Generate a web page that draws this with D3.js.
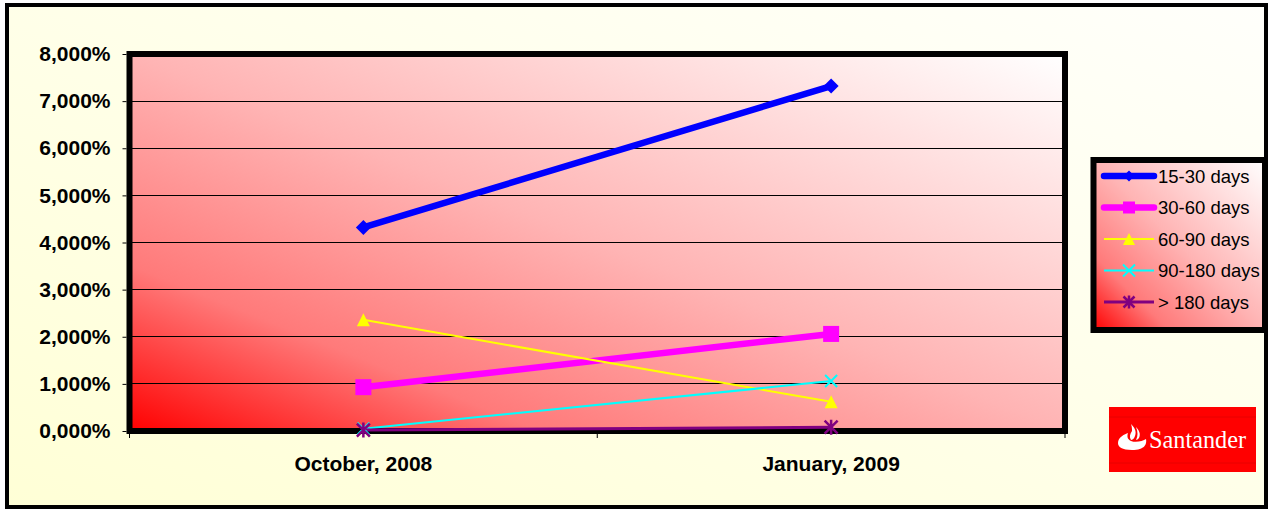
<!DOCTYPE html>
<html><head><meta charset="utf-8">
<script src="https://cdn.jsdelivr.net/npm/d3@7"></script>
<style>
html,body{margin:0;padding:0;background:#fff;overflow:hidden;}
svg{display:block;}
</style></head>
<body>
<svg id="c" width="1268" height="511"></svg>
<script>
const categories = ["October, 2008", "January, 2009"];
const seriesNames = ["15-30 days", "30-60 days", "60-90 days", "90-180 days", "> 180 days"];
const values1530 = [4.32, 7.32];
const values3060 = [0.93, 2.06];
const values6090 = [2.36, 0.62];
const values90180 = [0.05, 1.06];
const values180 = [0.02, 0.08];
const yTicks = [0, 1, 2, 3, 4, 5, 6, 7, 8];
const yTickLabels = ["0,000%", "1,000%", "2,000%", "3,000%", "4,000%", "5,000%", "6,000%", "7,000%", "8,000%"];

const series = [
  {name: seriesNames[0], values: values1530, color: "#0000ff", width: 6.5, marker: "diamond", ms: 15, lms: 11},
  {name: seriesNames[1], values: values3060, color: "#ff00ff", width: 6.5, marker: "square", ms: 16, lms: 12},
  {name: seriesNames[2], values: values6090, color: "#ffff00", width: 2, marker: "triangle", ms: 13, lms: 12},
  {name: seriesNames[3], values: values90180, color: "#00ffff", width: 2, marker: "x", ms: 12, lms: 12},
  {name: seriesNames[4], values: values180, color: "#800080", width: 3, marker: "asterisk", ms: 13, lms: 11}
];

const svg = d3.select("#c");
const defs = svg.append("defs");
const bg = defs.append("linearGradient").attr("id","bgGrad").attr("x1","0").attr("y1","1").attr("x2","1").attr("y2","0");
bg.append("stop").attr("offset","0").attr("stop-color","#ffffd6");
bg.append("stop").attr("offset","1").attr("stop-color","#fffffb");
function redGrad(id) {
  const g = defs.append("linearGradient").attr("id",id).attr("x1","0").attr("y1","1").attr("x2","1").attr("y2","0");
  g.append("stop").attr("offset","0").attr("stop-color","#ff0000");
  g.append("stop").attr("offset","0.22").attr("stop-color","#ff7a7a");
  g.append("stop").attr("offset","0.5").attr("stop-color","#ffb4b4");
  g.append("stop").attr("offset","1").attr("stop-color","#ffffff");
}
redGrad("plotGrad");
redGrad("legGrad");

// outer frame
svg.append("rect").attr("x",7).attr("y",5).attr("width",1259).attr("height",502)
  .attr("fill","url(#bgGrad)").attr("stroke","#000").attr("stroke-width",4);

const L = 129.5, R = 1065, T = 54, B = 431;
const x = d3.scaleBand().domain(categories).range([L, R]);
const y = d3.scaleLinear().domain([0, 8]).range([B, T]);

// plot area
svg.append("rect").attr("x",L+3).attr("y",T+3).attr("width",R-L).attr("height",B-T)
  .attr("fill","#888");
svg.append("rect").attr("x",L).attr("y",T).attr("width",R-L).attr("height",B-T)
  .attr("fill","url(#plotGrad)");

// gridlines
svg.append("g").selectAll("line").data(yTicks.filter(d => d > 0 && d < 8)).join("line")
  .attr("x1",L).attr("x2",R).attr("y1",d=>y(d)).attr("y2",d=>y(d))
  .attr("stroke","#000").attr("stroke-width",1).attr("shape-rendering","crispEdges");

svg.append("rect").attr("x",L).attr("y",T).attr("width",R-L).attr("height",B-T)
  .attr("fill","none").attr("stroke","#000").attr("stroke-width",6);

// y axis
const yAxis = d3.axisLeft(y).tickValues(yTicks).tickFormat((d,i)=>yTickLabels[i]).tickSize(4).tickPadding(12);
const ya = svg.append("g").attr("transform",`translate(${L-3},0)`).call(yAxis);
ya.select(".domain").remove();
ya.selectAll(".tick line").attr("stroke","#000");
ya.selectAll("text").attr("font-family","'Liberation Sans', Arial, sans-serif").attr("font-size",21)
  .attr("font-weight","bold").attr("fill","#000");

// x axis
const xAxis = d3.axisBottom(x).tickSize(0).tickPadding(0);
const xa = svg.append("g").attr("transform",`translate(0,${B})`).call(xAxis);
xa.select(".domain").remove();
xa.selectAll(".tick line").remove();
xa.selectAll("text").attr("y",40).attr("dy",0).attr("font-family","'Liberation Sans', Arial, sans-serif")
  .attr("font-size",21).attr("font-weight","bold").attr("fill","#000");
// x ticks at band boundaries
const bounds = [L, L + x.bandwidth(), R];
svg.append("g").selectAll("line").data(bounds).join("line")
  .attr("x1",d=>d).attr("x2",d=>d).attr("y1",B+3).attr("y2",B+7).attr("stroke","#000").attr("stroke-width",1);

function drawMarker(g, type, cx, cy, s, color) {
  const h = s/2;
  if (type === "diamond") {
    g.append("path").attr("d",`M${cx},${cy-h}L${cx+h},${cy}L${cx},${cy+h}L${cx-h},${cy}Z`).attr("fill",color);
  } else if (type === "square") {
    g.append("rect").attr("x",cx-h).attr("y",cy-h).attr("width",s).attr("height",s).attr("fill",color);
  } else if (type === "triangle") {
    g.append("path").attr("d",`M${cx},${cy-h}L${cx+h},${cy+h}L${cx-h},${cy+h}Z`).attr("fill",color);
  } else if (type === "x") {
    g.append("path").attr("d",`M${cx-h},${cy-h}L${cx+h},${cy+h}M${cx+h},${cy-h}L${cx-h},${cy+h}`)
      .attr("stroke",color).attr("stroke-width",2);
  } else if (type === "asterisk") {
    g.append("path").attr("d",`M${cx-h},${cy-h}L${cx+h},${cy+h}M${cx+h},${cy-h}L${cx-h},${cy+h}M${cx},${cy-h-1}L${cx},${cy+h+1}`)
      .attr("stroke",color).attr("stroke-width",2.5);
  }
}

const cx = d => x(d) + x.bandwidth()/2;
const line = d3.line().x((d,i)=>cx(categories[i])).y(d=>y(d));
const gl = svg.append("g");
series.forEach(s => {
  gl.append("path").attr("d", line(s.values)).attr("fill","none")
    .attr("stroke", s.color).attr("stroke-width", s.width);
});
series.forEach(s => {
  s.values.forEach((v,i) => drawMarker(gl, s.marker, cx(categories[i]), y(v), s.ms, s.color));
});

// legend
svg.append("rect").attr("x",1093.5).attr("y",160).attr("width",171.5).attr("height",170)
  .attr("fill","url(#legGrad)").attr("stroke","#000").attr("stroke-width",6);
const legY = d3.scalePoint().domain(seriesNames).range([176, 302]);
const leg = svg.append("g");
series.forEach(s => {
  const yy = legY(s.name);
  leg.append("line").attr("x1",1104).attr("x2",1154).attr("y1",yy).attr("y2",yy)
    .attr("stroke",s.color).attr("stroke-width",s.width).attr("stroke-linecap", s.width > 3 ? "round" : "butt");
  drawMarker(leg, s.marker, 1129, yy, s.lms, s.color);
  leg.append("text").attr("x",1158).attr("y",yy+6.5).text(s.name)
    .attr("font-family","'Liberation Sans', Arial, sans-serif").attr("font-size",18.5).attr("fill","#000");
});

// Santander logo
const logo = svg.append("g");
logo.append("rect").attr("x",1109).attr("y",407).attr("width",147).attr("height",65).attr("fill","#ff0000");
logo.append("line").attr("x1",1109).attr("x2",1256).attr("y1",417).attr("y2",417).attr("stroke","#e80000").attr("stroke-width",1);
logo.append("line").attr("x1",1109).attr("x2",1256).attr("y1",463).attr("y2",463).attr("stroke","#e80000").attr("stroke-width",1);
// flame
logo.append("path").attr("fill","#fff")
  .attr("d","M1118,443 C1118,437 1125,434 1128,433 C1127,436 1127,439 1131,441 C1136,443 1143,441 1146,439 C1147,444 1145,450 1132,450 C1122,450 1118,447 1118,443 Z");
logo.append("path").attr("fill","#fff")
  .attr("d","M1131,424 C1134,427 1137,431 1135,436 C1134,439 1132,440 1131,440 C1129,437 1130,434 1132,431 C1132,429 1132,427 1131,424 Z");
logo.append("path").attr("fill","#fff")
  .attr("d","M1136,427 C1139,430 1141,434 1139,438 C1138,439 1137,440 1136,440 C1138,436 1138,432 1136,427 Z");
logo.append("text").attr("x",1149).attr("y",448).text("Santander")
  .attr("font-family","'Liberation Serif', 'DejaVu Serif', serif").attr("font-size",24.5).attr("fill","#fff")
  .attr("textLength",97).attr("lengthAdjust","spacingAndGlyphs");
</script>
</body></html>
